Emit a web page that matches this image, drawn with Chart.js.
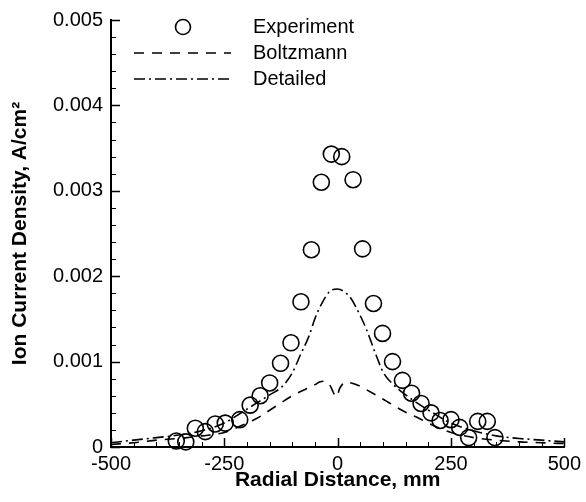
<!DOCTYPE html>
<html>
<head>
<meta charset="utf-8">
<script src="https://cdn.jsdelivr.net/npm/chart.js@4.4.1/dist/chart.umd.min.js"></script>
<style>
  html, body { margin: 0; padding: 0; background: #fff; }
  #wrap { width: 586px; height: 502px; }
</style>
</head>
<body>
<div id="wrap"><canvas id="ionChart" width="586" height="502"></canvas></div>
<script>
// radial profile of ion current density

// measured probe data
const expX = [-356, -335, -314, -292, -270, -248, -216, -193, -171, -150, -126, -103, -81, -58, -36, -14,
              9, 34, 55, 79, 99, 121, 143, 163, 184, 206, 226, 250, 269, 289, 309, 330, 347];
const expY = [0.00007, 0.00006, 0.00022, 0.00018, 0.00027, 0.00028, 0.00032, 0.00049, 0.00060, 0.00075,
              0.00098, 0.00122, 0.00170, 0.00231, 0.00310, 0.00343, 0.00340, 0.00313, 0.00232, 0.00168,
              0.00133, 0.00100, 0.00078, 0.00063, 0.00051, 0.00040, 0.00031, 0.00032, 0.00023, 0.00011,
              0.00030, 0.00030, 0.00011];

// Boltzmann electron model
const bolX = [-500, -450, -400, -350, -300, -250, -200, -180, -150, -100, -70, -50, -40, -28, -18, -12, -6, -2,
              4, 10, 20, 30, 50, 64, 97, 119, 156, 178, 200, 250, 300, 350, 400, 450, 500];
const bolY = [0.00003, 0.00005, 0.00008, 0.00010, 0.00013, 0.00017, 0.00028, 0.00033, 0.00043, 0.00060,
              0.00068, 0.00073, 0.00076, 0.00077, 0.00073, 0.00067, 0.00060, 0.00059, 0.00068, 0.00073,
              0.00076, 0.00075, 0.00071, 0.00067, 0.00057, 0.00050, 0.00039, 0.00034, 0.00028, 0.00017,
              0.00011, 0.00008, 0.00006, 0.00005, 0.00004];

// detailed electron model
const detX = [-500, -450, -400, -350, -300, -250, -210, -180, -150, -122, -100, -82, -64, -49, -34, -18, 0,
              17, 28, 46, 64, 83, 101, 123, 150, 180, 210, 250, 300, 350, 400, 450, 500];
const detY = [0.00005, 0.00008, 0.00011, 0.00014, 0.00019, 0.00028, 0.00041, 0.00051, 0.00061, 0.00071,
              0.00087, 0.00108, 0.00129, 0.00152, 0.00169, 0.00182, 0.00185, 0.00181, 0.00175, 0.00158,
              0.00137, 0.00110, 0.00087, 0.00073, 0.00061, 0.00050, 0.00040, 0.00028, 0.00019, 0.00013,
              0.00010, 0.00008, 0.00006];

const seriesNames = ['Experiment', 'Boltzmann', 'Detailed'];

// axis ticks
const xTicks = [-500, -250, 0, 250, 500];
const yTicks = [0, 0.001, 0.002, 0.003, 0.004, 0.005];
const xMinorStep = 50;
const yMinorStep = 0.0002;

const FONT = "'Liberation Sans', Arial, Helvetica, sans-serif";

const toPoints = (xs, ys) => xs.map((x, i) => ({ x: x, y: ys[i] }));

// ticks drawn inside the plot, major and minor
const inwardTicks = {
  id: 'inwardTicks',
  afterDraw(chart) {
    const { ctx, chartArea, scales } = chart;
    const x = scales.x, y = scales.y;
    ctx.save();
    ctx.strokeStyle = '#000';

    const xMin = xTicks[0], xMax = xTicks[xTicks.length - 1];
    for (let v = xMin; v <= xMax + 1e-9; v += xMinorStep) {
      const major = xTicks.includes(v);
      const px = Math.round(x.getPixelForValue(v)) + 0.5;
      ctx.lineWidth = major ? 1.5 : 1;
      ctx.beginPath();
      ctx.moveTo(px, chartArea.bottom);
      ctx.lineTo(px, chartArea.bottom - (major ? 9 : 5));
      ctx.stroke();
    }

    const nY = Math.round(yTicks[yTicks.length - 1] / yMinorStep);
    for (let i = 0; i <= nY; i++) {
      const v = i * yMinorStep;
      const major = i % 5 === 0;
      const py = Math.round(y.getPixelForValue(v)) + 0.5;
      ctx.lineWidth = major ? 1.5 : 1;
      ctx.beginPath();
      ctx.moveTo(chartArea.left, py);
      ctx.lineTo(chartArea.left + (major ? 9 : 5), py);
      ctx.stroke();
    }
    ctx.restore();
  }
};

// legend in the upper left corner of the plot
const cornerLegend = {
  id: 'cornerLegend',
  afterDraw(chart, args, opts) {
    const ctx = chart.ctx;
    ctx.save();
    ctx.font = '20px ' + FONT;
    ctx.textBaseline = 'middle';
    ctx.fillStyle = '#000';
    chart.data.datasets.forEach((ds, i) => {
      const yy = opts.top + i * opts.rowGap;
      ctx.strokeStyle = '#000';
      ctx.lineWidth = ds.borderWidth;
      if (ds.showLine === false) {
        ctx.beginPath();
        ctx.arc(opts.symbolX, yy, ds.pointRadius - 0.5, 0, Math.PI * 2);
        ctx.stroke();
      } else {
        ctx.setLineDash(ds.borderDash || []);
        ctx.beginPath();
        ctx.moveTo(opts.lineStart, yy);
        ctx.lineTo(opts.lineEnd, yy);
        ctx.stroke();
        ctx.setLineDash([]);
      }
      ctx.fillText(ds.label, opts.textX, yy);
    });
    ctx.restore();
  }
};

const chart = new Chart(document.getElementById('ionChart'), {
  type: 'line',
  data: {
    datasets: [{
      label: seriesNames[0],
      data: toPoints(expX, expY),
      showLine: false,
      pointStyle: 'circle',
      pointRadius: 8,
      pointBorderColor: '#000',
      pointBackgroundColor: 'rgba(0,0,0,0)',
      borderColor: '#000',
      borderWidth: 1.6,
      pointBorderWidth: 1.6,
      clip: false
    }, {
      label: seriesNames[1],
      data: toPoints(bolX, bolY),
      borderColor: '#000',
      borderWidth: 1.6,
      borderDash: [10, 8],
      pointRadius: 0,
      cubicInterpolationMode: 'monotone',
      fill: false
    }, {
      label: seriesNames[2],
      data: toPoints(detX, detY),
      borderColor: '#000',
      borderWidth: 1.6,
      borderDash: [11, 4, 2, 4],
      pointRadius: 0,
      cubicInterpolationMode: 'monotone',
      fill: false
    }]
  },
  options: {
    responsive: false,
    animation: false,
    layout: { padding: { top: 14, right: 19, left: 0, bottom: 0 } },
    plugins: {
      legend: { display: false },
      tooltip: { enabled: false },
      cornerLegend: { top: 27, rowGap: 26, symbolX: 183, lineStart: 134, lineEnd: 231, textX: 253 }
    },
    scales: {
      x: {
        type: 'linear',
        min: xTicks[0],
        max: xTicks[xTicks.length - 1],
        afterBuildTicks: s => { s.ticks = xTicks.map(v => ({ value: v })); },
        afterFit: s => { s.height = 55; },
        grid: { display: false, drawTicks: false },
        border: { display: true, color: '#000', width: 2 },
        ticks: {
          color: '#000',
          font: { family: FONT, size: 20 },
          padding: 5,
          maxRotation: 0,
          callback: v => String(v)
        },
        title: {
          display: true,
          text: 'Radial Distance, mm',
          color: '#000',
          font: { family: FONT, size: 21, weight: 'bold' },
          padding: { top: 0, bottom: 9 }
        }
      },
      y: {
        type: 'linear',
        min: yTicks[0],
        max: yTicks[yTicks.length - 1],
        afterBuildTicks: s => { s.ticks = yTicks.map(v => ({ value: v })); },
        afterFit: s => { s.width = 111; },
        grid: { display: false, drawTicks: false },
        border: { display: true, color: '#000', width: 2 },
        ticks: {
          color: '#000',
          font: { family: FONT, size: 20 },
          padding: 8,
          callback: v => (v === 0 ? '0' : v.toFixed(3))
        },
        title: {
          display: true,
          text: 'Ion Current Density, A/cm²',
          color: '#000',
          font: { family: FONT, size: 21, weight: 'bold' },
          padding: { top: 8, bottom: 0 }
        }
      }
    }
  },
  plugins: [inwardTicks, cornerLegend]
});
</script>
</body>
</html>
